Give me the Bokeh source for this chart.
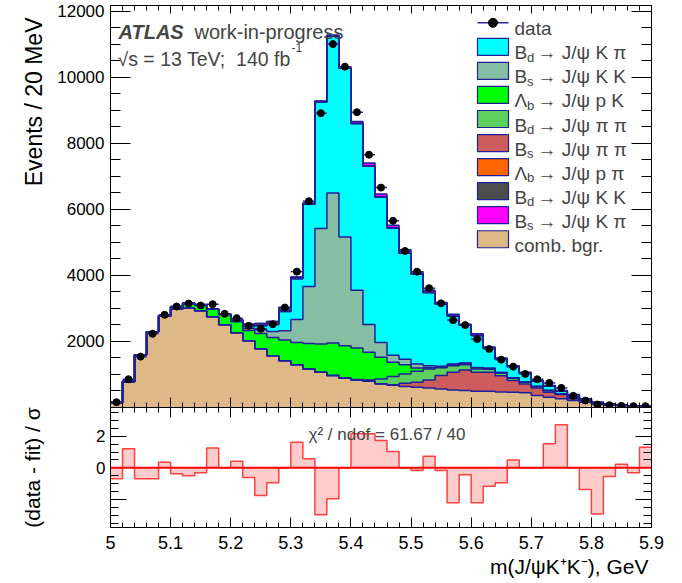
import numpy as np
from bokeh.plotting import figure
from bokeh.layouts import column
from bokeh.models import (LinearAxis, FixedTicker, CustomJSTickFormatter, Label,
                          Span, Range1d, Title)
from bokeh.embed import file_html
from bokeh.resources import INLINE

# ---------------- data ----------------
bin_low = 5.00
bin_width = 0.02
n_bins = 45

data_counts = [160, 855, 1540, 2232, 2806, 3057, 3147, 3087, 3127, 2836,
               2705, 2474, 2383, 2524, 3027, 4113, 6245, 8910, 11002, 10318,
               8940, 7654, 6657, 5652, 4737, 4113, 3611, 3153, 2645, 2494,
               2072, 1770, 1448, 1237, 1016, 855, 744, 594, 352, 211,
               90, 70, 50, 40, 40]

comb_bgr = [150, 785, 1600, 2290, 2760, 2977, 3007, 2926, 2745, 2504,
            2263, 2022, 1780, 1569, 1418, 1297, 1166, 1066, 965, 895,
            835, 795, 714, 674, 634, 614, 594, 563, 533, 513,
            493, 495, 470, 463, 443, 362, 312, 262, 211, 161,
            111, 80, 65, 45, 30]
bs_jpsi_pipi = [0, 0, 0, 0, 0, 0, 0, 0, 0, 0,
                0, 0, 0, 0, 0, 0, 0, 0, 0, 0,
                0, 5, 6, 16, 100, 150, 241, 402, 533, 623,
                573, 571, 490, 352, 271, 232, 151, 130, 51, 39,
                19, 10, 0, 0, 0]
bd_jpsi_pipi = [0, 0, 0, 0, 0, 0, 0, 0, 0, 0,
                0, 0, 0, 0, 0, 0, 0, 0, 0, 0,
                15, 30, 145, 245, 282, 332, 331, 235, 201, 161,
                100, 94, 80, 70, 50, 40, 50, 20, 50, 20,
                10, 0, 0, 0, 0]
lb_jpsi_pk = [0, 0, 0, 0, 16, 70, 140, 180, 230, 310,
              335, 310, 462, 553, 624, 674, 775, 855, 986, 975,
              950, 839, 653, 432, 281, 101, 34, 37, 33, 40,
              34, 30, 20, 15, 11, 0, 0, 0, 0, 0,
              0, 0, 0, 0, 0]
bs_jpsi_kk = [0, 0, 0, 0, 0, 0, 0, 0, 0, 5,
              20, 60, 110, 181, 281, 694, 1719, 3500, 4545, 3294,
              1750, 845, 453, 217, 161, 120, 67, 13, 20, 13,
              10, 0, 0, 0, 0, 0, 0, 0, 0, 0,
              0, 0, 0, 0, 0]
bd_jpsi_kpi = [0, 0, 0, 0, 0, 5, 0, 0, 0, 5,
               10, 60, 122, 207, 583, 1235, 2490, 3829, 4744, 5116,
               5050, 4787, 4404, 3847, 3209, 2723, 2213, 1880, 1450, 1140,
               970, 600, 410, 340, 265, 161, 137, 88, 68, 30,
               15, 15, 13, 5, 3]
lb_jpsi_ppi = [0] * 45
bd_jpsi_kk = [0, 0, 0, 0, 0, 5, 13, 12, 12, 12,
              37, 72, 71, 95, 121, 52, 35, 20, 0, 0,
              0, 0, 0, 0, 0, 0, 0, 0, 0, 0,
              0, 0, 0, 0, 0, 0, 0, 0, 0, 0,
              0, 0, 0, 0, 0]
bs_jpsi_kpi = [0, 0, 0, 0, 0, 0, 0, 0, 0, 0,
               0, 0, 0, 0, 0, 0, 0, 12, 34, 38,
               59, 101, 91, 90, 105, 73, 71, 48, 56, 34,
               53, 40, 30, 27, 26, 20, 14, 13, 12, 12,
               6, 6, 2, 2, 2]

pulls = [-0.69, 1.20, -0.69, -0.69, 0.36, -0.38, -0.50, -0.32, 1.26, 0.0,
         0.42, -0.61, -1.75, -0.95, 0.0, 1.62, 0.57, -2.97, -1.96, 0.0,
         2.15, 2.15, 1.73, 1.03, 0.0, -0.17, 0.74, -0.17, -2.21, -0.44,
         -2.21, -1.16, -0.95, 0.50, 0.0, 0.0, 1.52, 2.72, 0.0, -1.37,
         -2.93, -0.55, 0.23, -0.32, 1.31]

chi2_label = "χ² / ndof = 61.67 / 40"
y_title = "Events / 20 MeV"
r_title = "(data - fit) / σ"
x_title = "m(J/ψK⁺K⁻), GeV"

x_ticks = [5.0, 5.1, 5.2, 5.3, 5.4, 5.5, 5.6, 5.7, 5.8, 5.9]
x_minor = [round(5.0 + 0.02 * i, 2) for i in range(46)]
y_ticks = [2000, 4000, 6000, 8000, 10000, 12000]
y_minor = [500 * i for i in range(25)]
r_ticks = [-2, 0, 2]
r_minor = [-3.5 + 0.5 * i for i in range(15)]

components = [  # bottom -> top of the stack
    (comb_bgr, "#deb887"),
    (bs_jpsi_pipi, "#cd5c5c"),
    (bd_jpsi_pipi, "#5ccf5c"),
    (lb_jpsi_pk, "#00ff00"),
    (bs_jpsi_kk, "#86bea3"),
    (bd_jpsi_kpi, "#00ffff"),
    (lb_jpsi_ppi, "#ff6600"),
    (bd_jpsi_kk, "#4d4d4d"),
    (bs_jpsi_kpi, "#ff00ff"),
]

legend_entries = [  # (main, subscript, rest, colour)
    ("B", "d", "→ J/ψ K π", "#00ffff"),
    ("B", "s", "→ J/ψ K K", "#86bea3"),
    ("Λ", "b", "→ J/ψ p K", "#00ff00"),
    ("B", "d", "→ J/ψ π π", "#5ccf5c"),
    ("B", "s", "→ J/ψ π π", "#cd5c5c"),
    ("Λ", "b", "→ J/ψ p π", "#ff6600"),
    ("B", "d", "→ J/ψ K K", "#4d4d4d"),
    ("B", "s", "→ J/ψ K π", "#ff00ff"),
    ("comb. bgr.", "", "", "#deb887"),
]

# ---------------- layout constants (page pixels) ----------------
W = 682
FL, FR = 110, 651          # frame left / right
MT, MB = 5, 407            # main frame top / bottom
RB = 527                   # ratio frame bottom
X0, X1 = 5.0, 5.9
YMAX = 12170.0
R_TOP, R_BOT = 3.82, -3.78
NAVY = "#1f1f99"
FONT = "Liberation Sans"

edges = np.round(bin_low + bin_width * np.arange(n_bins + 1), 4)
centers = 0.5 * (edges[:-1] + edges[1:])


def ext(a):
    a = np.asarray(a, dtype=float)
    return np.append(a, a[-1])


def mx(px):
    return X0 + (px - FL) / (FR - FL) * (X1 - X0)


def my(py):
    return YMAX * (MB - py) / (MB - MT)


def ry(py):
    return R_TOP - (py - MB) / (RB - MB) * (R_TOP - R_BOT)


def mk_axis(ticks, minors, tin, min_in, labels, fmt=None, size="17px", standoff=5):
    ax = LinearAxis(ticker=FixedTicker(ticks=ticks, minor_ticks=minors),
                    major_tick_in=tin, major_tick_out=0,
                    minor_tick_in=min_in, minor_tick_out=0,
                    axis_line_color="black", major_tick_line_color="black",
                    minor_tick_line_color="black", axis_label=None)
    if labels:
        ax.major_label_text_font = FONT
        ax.major_label_text_font_size = size
        ax.major_label_text_color = "black"
        ax.major_label_standoff = standoff
        if fmt is not None:
            ax.formatter = fmt
    else:
        ax.major_label_text_font_size = "0px"
        ax.major_label_standoff = 0
        ax.formatter = CustomJSTickFormatter(code="return '';")
    return ax


x_range = Range1d(X0, X1)

# ---------------- main figure ----------------
p1 = figure(width=W, height=MB, x_range=x_range, y_range=Range1d(0, YMAX),
            output_backend="svg", toolbar_location=None,
            x_axis_location=None, y_axis_location=None,
            min_border_left=FL, min_border_right=W - FR,
            min_border_top=MT, min_border_bottom=0)
p1.grid.visible = False
p1.outline_line_color = "black"
p1.background_fill_color = "white"
p1.border_fill_color = "white"

p1.add_layout(mk_axis(y_ticks, y_minor, 20, 10, True, standoff=6), "left")
p1.add_layout(mk_axis(y_ticks, y_minor, 20, 10, False), "right")
p1.add_layout(mk_axis(x_ticks, x_minor, 10, 5, False), "below")
p1.add_layout(mk_axis(x_ticks, x_minor, 8, 5, False), "above")
p1.add_layout(Title(text=y_title, align="right", offset=12, standoff=15,
                    text_font=FONT, text_font_size="23px", text_font_style="normal",
                    text_color="black"), "left")

cum = np.zeros(n_bins)
tops = []
for vals, col in components:
    top = cum + np.asarray(vals, dtype=float)
    p1.varea_step(x=edges, y1=ext(cum), y2=ext(top), step_mode="after",
                  fill_color=col, fill_alpha=1.0)
    tops.append(top)
    cum = top
for top in tops:
    p1.step(x=edges, y=ext(top), mode="after", line_color=NAVY, line_width=1.5)

dc = np.asarray(data_counts, dtype=float)
p1.segment(x0=edges[:-1], x1=edges[1:], y0=dc, y1=dc, line_color="#2a2a9a", line_width=1.5)
p1.segment(x0=centers, x1=centers, y0=dc - np.sqrt(dc), y1=dc + np.sqrt(dc),
           line_color="#2a2a9a", line_width=1.5)
p1.scatter(centers, dc, size=7, fill_color="black", line_color="black")

# legend
row0, dy = 22.3, 24.05
lx0, lx1 = 477, 508
p1.segment(x0=[mx(lx0)], x1=[mx(lx1)], y0=[my(row0)], y1=[my(row0)],
           line_color="#2a2a9a", line_width=1.5)
p1.scatter([mx((lx0 + lx1) / 2)], [my(row0)], size=9, fill_color="black", line_color="black")
p1.add_layout(Label(x=mx(514), y=my(row0 + 6), text="data", text_font=FONT,
                    text_font_size="19px", text_baseline="alphabetic"))
for k, (main, sub, rest, col) in enumerate(legend_entries):
    c = row0 + dy * (k + 1)
    p1.quad(left=[mx(lx0)], right=[mx(lx1)], top=[my(c - 8.5)], bottom=[my(c + 8.5)],
            fill_color=col, line_color=NAVY, line_width=1.2)
    p1.add_layout(Label(x=mx(514), y=my(c + 6), text=main, text_font=FONT,
                        text_font_size="19px", text_baseline="alphabetic"))
    if sub:
        p1.add_layout(Label(x=mx(526.5), y=my(c + 10.5), text=sub, text_font=FONT,
                            text_font_size="13px", text_baseline="alphabetic"))
        p1.add_layout(Label(x=mx(537), y=my(c + 6), text=rest, text_font=FONT,
                            text_font_size="19px", text_baseline="alphabetic"))

# ATLAS texts
p1.add_layout(Label(x=mx(118), y=my(31.7), text="ATLAS", text_font=FONT,
                    text_font_size="20px", text_font_style="bold italic",
                    text_baseline="alphabetic"))
p1.add_layout(Label(x=mx(194), y=my(31.7), text="work-in-progress", text_font=FONT,
                    text_font_size="20px", text_baseline="alphabetic"))
p1.add_layout(Label(x=mx(117), y=my(58.3), text="√s = 13 TeV;\u00a0\u00a0140 fb",
                    text_font=FONT, text_font_size="19.5px", text_baseline="alphabetic"))
p1.add_layout(Label(x=mx(291), y=my(47), text="-1", text_font=FONT,
                    text_font_size="12px", text_baseline="alphabetic"))

# ---------------- ratio figure ----------------
p2 = figure(width=W, height=583 - MB, x_range=x_range, y_range=Range1d(R_BOT, R_TOP),
            output_backend="svg", toolbar_location=None,
            x_axis_location=None, y_axis_location=None,
            min_border_left=FL, min_border_right=W - FR,
            min_border_top=0, min_border_bottom=583 - RB)
p2.grid.visible = False
p2.outline_line_color = "black"
p2.background_fill_color = "white"
p2.border_fill_color = "white"

rfmt = CustomJSTickFormatter(code="return (tick < -1) ? '' : tick.toFixed(0);")
xfmt = CustomJSTickFormatter(code="return (Math.abs(tick - 5) < 1e-6) ? '5' : tick.toFixed(1);")
r_left = mk_axis(r_ticks, r_minor, 16, 8, True, fmt=rfmt, standoff=5)
r_left.axis_label = r_title
r_left.axis_label_text_font = FONT
r_left.axis_label_text_font_size = "21px"
r_left.axis_label_text_font_style = "normal"
r_left.axis_label_text_color = "black"
r_left.axis_label_standoff = 49
p2.add_layout(r_left, "left")
p2.add_layout(mk_axis(r_ticks, r_minor, 16, 8, False), "right")
p2.add_layout(mk_axis(x_ticks, x_minor, 10, 5, True, fmt=xfmt, size="18px", standoff=8), "below")
p2.add_layout(mk_axis(x_ticks, x_minor, 10, 5, False), "above")
p2.add_layout(Title(text=x_title, align="right", offset=3, standoff=3,
                    text_font=FONT, text_font_size="21px", text_font_style="normal",
                    text_color="black"), "below")

pu = np.asarray(pulls, dtype=float)
p2.varea_step(x=edges, y1=np.zeros(n_bins + 1), y2=ext(pu), step_mode="after",
              fill_color="#ffcccc", fill_alpha=1.0)
p2.step(x=edges, y=ext(pu), mode="after", line_color="#ff4040", line_width=1.5)
p2.add_layout(Span(location=0, dimension="width", line_color="#ff0000", line_width=2))

p2.add_layout(Label(x=mx(308), y=ry(434), text=chi2_label, text_font=FONT,
                    text_font_size="17px", text_baseline="alphabetic"))

layout = column(p1, p2, spacing=0)
open("out.html", "w").write(file_html(layout, INLINE))
